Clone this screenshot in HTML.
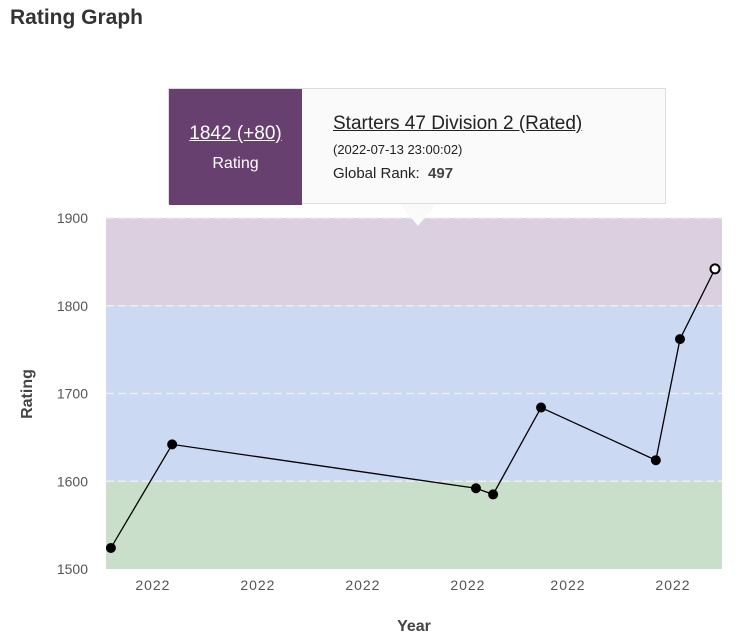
<!DOCTYPE html>
<html><head><meta charset="utf-8"><style>
body{margin:0;background:#fff;width:742px;height:641px;overflow:hidden;font-family:"Liberation Sans",sans-serif;position:relative}
h2{position:absolute;left:10px;top:6px;margin:0;font-size:21px;font-weight:bold;color:#333}
#tip{position:absolute;left:168px;top:88px;width:498px;height:116px;background:#fafafa;border:1px solid #ddd;box-sizing:border-box}
#tipL{position:absolute;left:0;top:0;width:133px;height:116px;background:#674070;color:#fff;text-align:center}
#arrow{position:absolute;left:400px;top:204px;width:0;height:0;border-left:18px solid transparent;border-right:18px solid transparent;border-top:22px solid #fafafa}
</style></head><body>
<h2>Rating Graph</h2>
<svg id="chart" width="742" height="641" style="position:absolute;left:0;top:0"></svg>
<div id="tip">
 <div id="tipL">
  <div style="position:absolute;top:34px;width:100%;font-size:19px;text-decoration:underline">1842 (+80)</div>
  <div style="position:absolute;top:66px;width:100%;font-size:16px">Rating</div>
 </div>
 <div style="position:absolute;left:164px;top:24px;font-size:19px;color:#222;text-decoration:underline">Starters 47 Division 2 (Rated)</div>
 <div style="position:absolute;left:164px;top:53px;font-size:13px;color:#222">(2022-07-13 23:00:02)</div>
 <div style="position:absolute;left:164px;top:76px;font-size:15px;color:#222">Global Rank: &nbsp;<b style="color:#444">497</b></div>
</div>
<div id="arrow"></div>
<script>
const days=[1.4,18.9,105.7,110.6,124.3,157.1,164,174];
const ratings=[1524,1642,1592,1585,1684,1624,1762,1842];
const yTicks=[1500,1600,1700,1800,1900];
const xTickDays=[13.4,43.4,73.4,103.4,132,162];
const xTickLabels=["2022","2022","2022","2022","2022","2022"];
const bands=[[1500,1600,"#c9dfc9"],[1600,1800,"#ccd9f2"],[1800,1900,"#dbd0df"]];
const L=106,R=722,T=218,B=569;
const X=d=>L+d/176*(R-L);
const Y=v=>B-(v-1500)/400*(B-T);
const svg=document.getElementById('chart');
const NS='http://www.w3.org/2000/svg';
function mk(t,a){const e=document.createElementNS(NS,t);for(const k in a)e.setAttribute(k,a[k]);svg.appendChild(e);return e;}
bands.forEach((b,i)=>{const r=mk('rect',{x:L,y:Y(b[1]),width:R-L,height:Y(b[0])-Y(b[1]),fill:b[2]});

});
yTicks.forEach(v=>{
 if(v>1500){const l=mk('line',{x1:L,x2:R,y1:Y(v),y2:Y(v),stroke:'#eee','stroke-width':1.5,'stroke-dasharray':'8,4'});
 
 }
 const t=mk('text',{x:L-18,y:Y(v)+5,'text-anchor':'end','font-size':14,fill:'#555','font-family':'Liberation Sans,sans-serif'});t.textContent=v;
 
 
});
xTickDays.forEach((d,i)=>{const t=mk('text',{x:X(d),y:590,'text-anchor':'middle','font-size':14,fill:'#555','font-family':'Liberation Sans,sans-serif','letter-spacing':'1'});t.textContent=xTickLabels[i];

});
const yt=mk('text',{x:32,y:394,'text-anchor':'middle','font-size':16,'font-weight':'bold',fill:'#444',transform:'rotate(-90 32 394)','font-family':'Liberation Sans,sans-serif'});yt.textContent='Rating';


const xt=mk('text',{x:414,y:631,'text-anchor':'middle','font-size':16,'font-weight':'bold',fill:'#444','font-family':'Liberation Sans,sans-serif'});xt.textContent='Year';


const pl=mk('polyline',{points:days.map((d,i)=>X(d)+','+Y(ratings[i])).join(' '),fill:'none',stroke:'#000','stroke-width':1.3});


days.forEach((d,i)=>{const last=i===days.length-1;
 const c=mk('circle',{cx:X(d),cy:Y(ratings[i]),r:last?4.5:4.5,fill:last?'#fff':'#000',stroke:'#000','stroke-width':last?2:1});
 
 });
</script>
</body></html>
